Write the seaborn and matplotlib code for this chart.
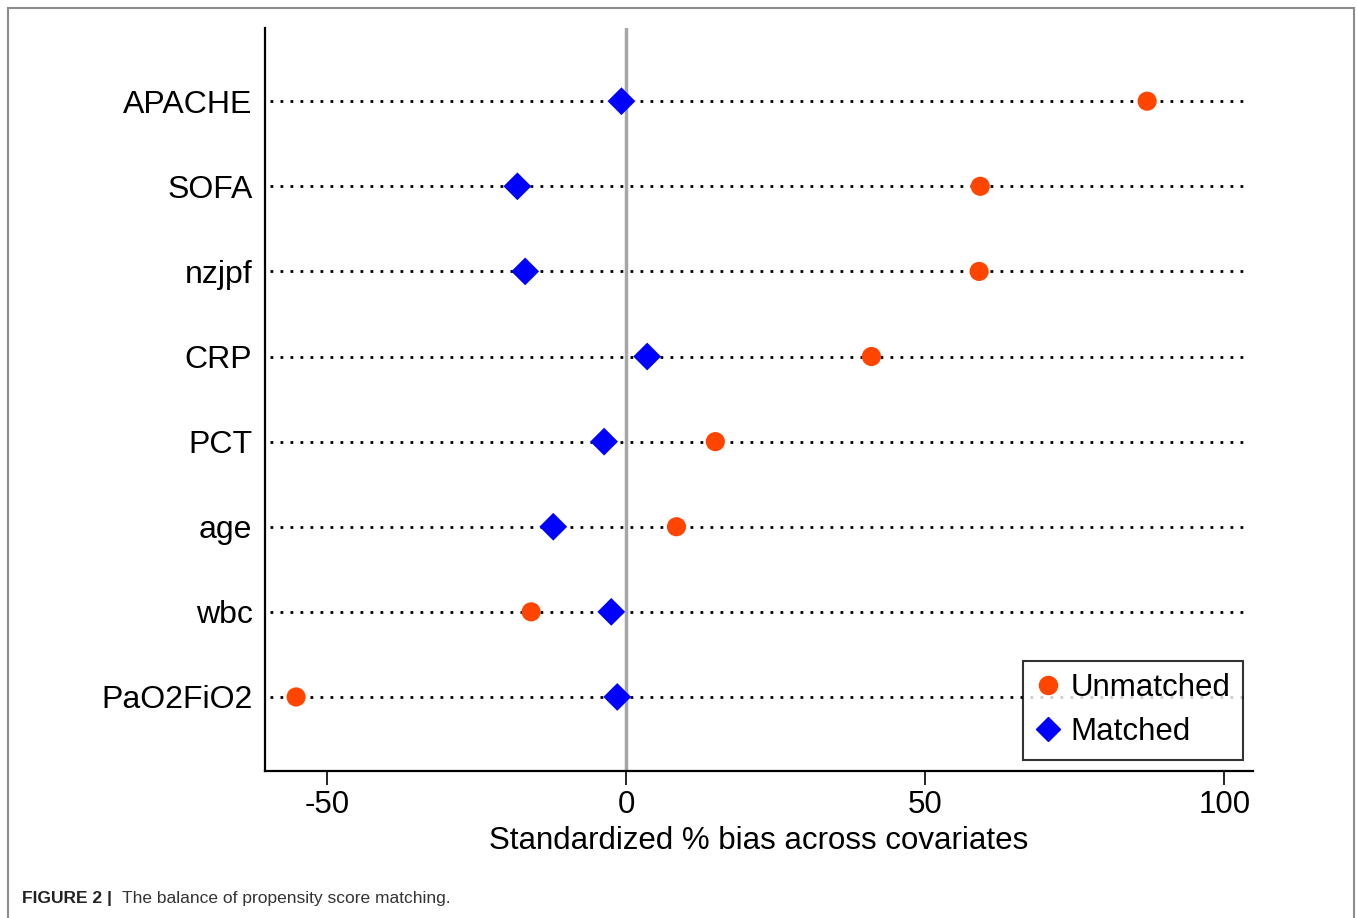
import pandas as pd
import matplotlib
matplotlib.use("Agg")
import matplotlib.pyplot as plt
import matplotlib.patches as mpatches
import seaborn as sns

# ---------------- data ----------------
covariates = ["APACHE", "SOFA", "nzjpf", "CRP", "PCT", "age", "wbc", "PaO2FiO2"]
unmatched  = [87.1, 59.2, 59.0, 41.0, 14.9, 8.4, -15.9, -55.2]
matched    = [-0.8, -18.2, -16.9, 3.5, -3.7, -12.2, -2.5, -1.5]
xticks     = [-50, 0, 50, 100]

# ---------------- style ----------------
FONT      = "Liberation Sans"
C_UNM     = "#FF4500"
C_MAT     = "#0000FF"
FS        = 22.5

df = pd.concat([
    pd.DataFrame({"covariate": covariates, "bias": unmatched, "sample": "Unmatched"}),
    pd.DataFrame({"covariate": covariates, "bias": matched, "sample": "Matched"}),
])
df["pos"] = df["covariate"].map({c: i for i, c in enumerate(covariates)})

sns.set_theme(style="white")
plt.rcParams["font.family"] = [FONT, "DejaVu Sans"]
plt.rcParams["text.color"] = "black"
plt.rcParams["xtick.color"] = "black"
plt.rcParams["ytick.color"] = "black"
plt.rcParams["axes.labelcolor"] = "black"

fig = plt.figure(figsize=(13.57, 9.18), dpi=100)
ax = fig.add_axes([265 / 1357, 1 - 771 / 918, (1253 - 265) / 1357, (771 - 28) / 918])

# dotted guide lines + zero line
ax.hlines(range(len(covariates)), -59.5, 104.2, colors="black", linestyles=(0, (1, 2.6)), lw=2, zorder=1)
ax.axvline(0, color="#A6A6A6", lw=2.5, zorder=1)

sns.scatterplot(data=df, x="bias", y="pos", hue="sample", style="sample",
                hue_order=["Unmatched", "Matched"], style_order=["Unmatched", "Matched"],
                palette={"Unmatched": C_UNM, "Matched": C_MAT},
                markers={"Unmatched": "o", "Matched": "D"},
                size="sample", sizes={"Unmatched": 190, "Matched": 200},
                linewidth=0, legend=False, zorder=3, ax=ax)

ax.set_xlim(-60.4, 104.8)
ax.set_ylim(len(covariates) - 1 + 0.87, -0.86)
ax.set_yticks(range(len(covariates)))
ax.set_yticklabels(covariates, fontsize=FS + 0.5)
ax.set_xticks(xticks)
ax.set_xticklabels([str(t) for t in xticks], fontsize=FS)
ax.set_xlabel("Standardized % bias across covariates", fontsize=FS, labelpad=4)
ax.set_ylabel("")
ax.tick_params(axis="x", length=10, width=1.2, color="black", direction="out", pad=4, bottom=True)
ax.tick_params(axis="y", length=0, pad=9)
for s in ["top", "right"]:
    ax.spines[s].set_visible(False)
for s in ["left", "bottom"]:
    ax.spines[s].set_color("black")
    ax.spines[s].set_linewidth(1.6)

handles = [
    plt.Line2D([], [], ls="", marker="o", color=C_UNM, markersize=13, label="Unmatched"),
    plt.Line2D([], [], ls="", marker="D", color=C_MAT, markersize=12, label="Matched"),
]
leg = ax.legend(handles=handles, loc="lower right", bbox_to_anchor=(0.9895, 0.015), fontsize=FS,
                frameon=True, fancybox=False, handletextpad=0.3, handlelength=0.8,
                borderpad=0.4, labelspacing=0.45, borderaxespad=0)
leg.get_frame().set_edgecolor("black")
leg.get_frame().set_linewidth(1.5)

# outer frame and caption
fig.patches.append(mpatches.Rectangle((8 / 1357, -0.1), (1354 - 8) / 1357, 1.1 - 8 / 918,
                                      transform=fig.transFigure, fill=False,
                                      edgecolor="#8C8C8C", lw=1.5))
fig.text(22 / 1357, 1 - 898 / 918, "FIGURE 2 |", fontsize=12.5, fontweight="bold",
         family=["Liberation Sans Narrow", FONT], va="center", color="#222222")
fig.text(122 / 1357, 1 - 898 / 918, "The balance of propensity score matching.", fontsize=12.5,
         family=["Liberation Sans Narrow", FONT], va="center", color="#333333")

fig.savefig("out.png", dpi=100)
